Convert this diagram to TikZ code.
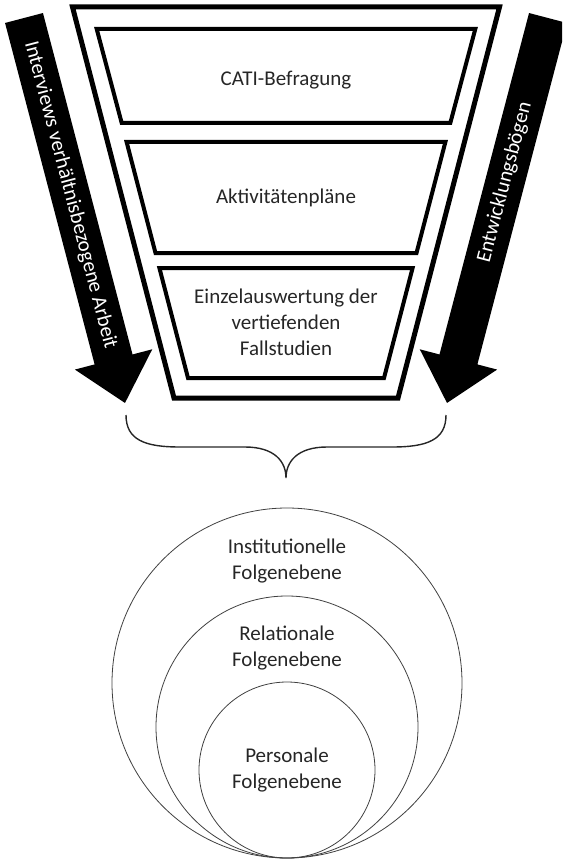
\documentclass[tikz,border=0pt]{standalone}
\usepackage{fontspec}
\setmainfont{Carlito}
\usetikzlibrary{calc}
\def\drawfunnel{\draw[line width=5pt, line join=miter]}
\def\drawstage{\draw[line width=4pt, line join=miter]}
\def\stagenode{\node[align=center, text=black!85, font=\fontsize{21}{26}\selectfont]}
\def\levelnode{\node[circle, draw=black!75, line width=0.8pt, inner sep=0pt]}
\def\arrownode{\node[text=white, inner sep=0pt, font=\fontsize{21}{26}\selectfont]}
\def\fillarrow{\fill (-19.6,0) -- (19.6,0) -- (19.6,353) -- (40,353) -- (0,398) -- (-40,353) -- (-19.6,353) -- cycle}

\begin{document}
\begin{tikzpicture}[x=1pt, y=-1pt]
\useasboundingbox (0,0) rectangle (562,861);
\clip (0,0) rectangle (562,861);
\drawfunnel (72.5,7) -- (499.5,7) -- (398,398) -- (174,398) -- cycle;
\drawstage (96.7,29) -- (475.3,29) -- (450.3,123) -- (121.7,123) -- cycle;
\drawstage (126.6,142) -- (445.4,142) -- (416.5,253) -- (155.5,253) -- cycle;
\drawstage (159.4,268) -- (412.6,268) -- (384,378) -- (188,378) -- cycle;
\stagenode (cati) at (286,80) {CATI-Befragung};
\stagenode (plaene) at (286,198) {Aktivitätenpläne};
\stagenode (einzel) at (286,322) {Einzelauswertung der\\vertiefenden\\Fallstudien};
\begin{scope}[shift={(24,18)}, rotate=14.7]
\fillarrow;
\arrownode[rotate=-75.3] (interviews) at (0,183) {Interviews verhältnisbezogene Arbeit};
\end{scope}
\begin{scope}[shift={(548,18)}, rotate=-14.7]
\fillarrow;
\arrownode[rotate=75.3] (bogen) at (0,170) {Entwicklungsbögen};
\end{scope}
\draw[line width=1.4pt, black!85] (126,415) .. controls (126,440) and (145,447) .. (180,447) -- (245,447) .. controls (275,447) and (286,462) .. (286,478) .. controls (286,462) and (297,447) .. (327,447) -- (392,447) .. controls (427,447) and (446,440) .. (446,415);
\levelnode[minimum size=350pt] (inst) at (287,683) {};
\levelnode[minimum size=262pt] (rel) at (287,727) {};
\levelnode[minimum size=176pt] (pers) at (287,770) {};
\stagenode (insttext) at (287,561) {Institutionelle\\Folgenebene};
\stagenode (reltext) at (287,648) {Relationale\\Folgenebene};
\stagenode (perstext) at (287,770) {Personale\\Folgenebene};
\end{tikzpicture}
\end{document}
